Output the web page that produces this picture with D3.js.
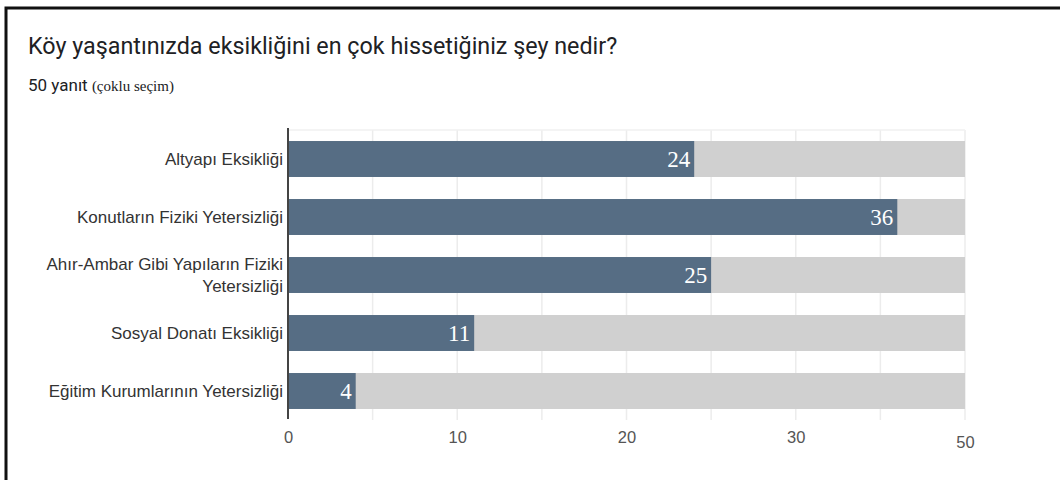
<!DOCTYPE html>
<html><head><meta charset="utf-8">
<script src="https://cdn.jsdelivr.net/npm/d3@7"></script>
<style>
html,body{margin:0;padding:0;background:#fff;}
svg{display:block;}
</style></head>
<body>
<svg id="chart" width="1060" height="480"></svg>
<script>
const title = "Köy yaşantınızda eksikliğini en çok hissetiğiniz şey nedir?";
const responses = "50 yanıt";
const note = "(çoklu seçim)";
const categories = [
  ["Altyapı Eksikliği"],
  ["Konutların Fiziki Yetersizliği"],
  ["Ahır-Ambar Gibi Yapıların Fiziki", "Yetersizliği"],
  ["Sosyal Donatı Eksikliği"],
  ["Eğitim Kurumlarının Yetersizliği"]
];
const values = [24, 36, 25, 11, 4];
const trackMax = 40;
const tickValues = [0, 10, 20, 30, 40];
const tickLabels = ["0", "10", "20", "30", "50"];
const gridValues = [5, 10, 15, 20, 25, 30, 35, 40];

const svg = d3.select("#chart");

// frame
svg.append("rect").attr("x", 6).attr("y", 8).attr("width", 1070).attr("height", 490)
  .attr("fill", "none").attr("stroke", "#111").attr("stroke-width", 3);

svg.append("text").attr("x", 28).attr("y", 54)
  .attr("font-family", "Roboto, 'Noto Sans', sans-serif").attr("font-size", 23.3)
  .attr("fill", "#202124").text(title);

const sub = svg.append("text").attr("x", 28).attr("y", 91).attr("fill", "#202124");
sub.append("tspan").attr("font-family", "Roboto, sans-serif").attr("font-size", 17).text(responses + " ");
sub.append("tspan").attr("font-family", "'Liberation Serif', 'DejaVu Serif', serif").attr("font-size", 15).text(note);

const x = d3.scaleLinear().domain([0, trackMax]).range([288, 965]);
const y = d3.scaleBand().domain(d3.range(categories.length)).range([130, 420])
  .paddingInner(0.38).paddingOuter(0.19);

// grid
svg.append("g").selectAll("line").data(gridValues).join("line")
  .attr("x1", d => x(d)).attr("x2", d => x(d)).attr("y1", 130).attr("y2", 420)
  .attr("stroke", "#ececec").attr("stroke-width", 1.5);
svg.append("line").attr("x1", 288).attr("x2", x(trackMax)).attr("y1", 130).attr("y2", 130)
  .attr("stroke", "#f0f0f0").attr("stroke-width", 1.5);

// tracks
svg.append("g").selectAll("rect").data(values).join("rect")
  .attr("x", x(0)).attr("y", (d, i) => y(i)).attr("width", x(trackMax) - x(0))
  .attr("height", y.bandwidth()).attr("fill", "#d0d0d0");

// bars
svg.append("g").selectAll("rect").data(values).join("rect")
  .attr("x", x(0)).attr("y", (d, i) => y(i)).attr("width", d => x(d) - x(0))
  .attr("height", y.bandwidth()).attr("fill", "#566d84");

// value labels
svg.append("g").selectAll("text").data(values).join("text")
  .attr("x", d => x(d) - 4).attr("y", (d, i) => y(i) + y.bandwidth() / 2 + 8)
  .attr("text-anchor", "end").attr("fill", "#fff")
  .attr("font-family", "'Liberation Serif', 'DejaVu Serif', serif").attr("font-size", 23)
  .text(d => d);

// y axis line
svg.append("line").attr("x1", 288).attr("x2", 288).attr("y1", 128).attr("y2", 419)
  .attr("stroke", "#444").attr("stroke-width", 2);

// category labels
const cl = svg.append("g").selectAll("text").data(categories).join("text")
  .attr("text-anchor", "end")
  .attr("font-family", "'Liberation Sans', Arial, sans-serif").attr("font-size", 17)
  .attr("fill", "#333");
cl.each(function(lines, i) {
  const cy = y(i) + y.bandwidth() / 2;
  const t = d3.select(this);
  const lh = 22;
  const start = cy + 6 - (lines.length - 1) * lh / 2;
  lines.forEach((ln, j) => {
    t.append("tspan").attr("x", 283).attr("y", start + j * lh).text(ln);
  });
});

// x axis
const xAxis = d3.axisBottom(x).tickValues(tickValues).tickSize(0).tickPadding(0)
  .tickFormat((d, i) => tickLabels[i]);
const ax = svg.append("g").attr("transform", "translate(0,431)").call(xAxis);
ax.select(".domain").remove();
ax.selectAll("text").attr("font-family", "'Liberation Sans', Arial, sans-serif")
  .attr("font-size", 16.5).attr("fill", "#555")
  .attr("dy", (d, i) => i === tickLabels.length - 1 ? "1.05em" : "0.75em");
</script>
</body></html>
